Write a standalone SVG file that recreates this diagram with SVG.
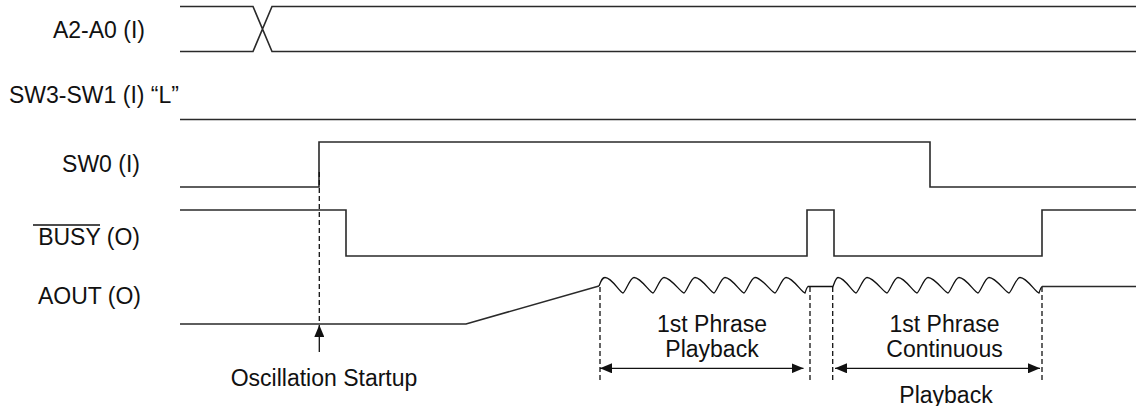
<svg xmlns="http://www.w3.org/2000/svg" width="1136" height="406" viewBox="0 0 1136 406">
<style>
text{font-family:"Liberation Sans",Arial,sans-serif;font-size:23px;fill:#111}
.sig{fill:none;stroke:#2a2a2a;stroke-width:1.6}
.wave{fill:none;stroke:#111;stroke-width:1.3}
.dash{fill:none;stroke:#111;stroke-width:1.3;stroke-dasharray:5,3}
.arr{fill:none;stroke:#111;stroke-width:1.3}
</style>
<defs>
<marker id="ah" viewBox="0 0 12 10" refX="12" refY="5" markerWidth="12" markerHeight="10" markerUnits="userSpaceOnUse" orient="auto-start-reverse">
<path d="M0,0 L12,5 L0,10 z" fill="#111"/>
</marker>
</defs>
<rect width="1136" height="406" fill="#fff"/>
<g id="a2a0">
<text x="145" y="38" text-anchor="end">A2-A0 (I)</text>
<path class="sig" d="M180,6.5 L253,6.5 L272,51.5 L1136,51.5 M180,51.5 L253,51.5 L272,6.5 L1136,6.5"/>
</g>
<g id="sw3sw1">
<text x="94" y="103" text-anchor="middle">SW3-SW1 (I) “L”</text>
<path class="sig" d="M180,119.5 L1136,119.5"/>
</g>
<g id="sw0">
<text x="140" y="172" text-anchor="end">SW0 (I)</text>
<path class="sig" d="M180,187 L319,187 L319,142 L930,142 L930,187 L1136,187"/>
</g>
<g id="busy">
<text x="140" y="245" text-anchor="end">BUSY (O)</text>
<line x1="33" y1="225" x2="100" y2="225" stroke="#111" stroke-width="1.5"/>
<path class="sig" d="M180,210 L346,210 L346,256 L807,256 L807,210 L834,210 L834,256 L1042,256 L1042,210 L1136,210"/>
</g>
<g id="aout">
<text x="141" y="304" text-anchor="end">AOUT (O)</text>
<path class="sig" d="M180,324 L466,324 L599,286"/>
<path class="wave" d="M599,286 C601,281 602,277.5 605,277.5 C612,277.5 620,293 623,293 C625,293 630,277.5 634,277.5 C641,277.5 650,293 653,293 C655,293 660,277.5 664,277.5 C671,277.5 681,293 684,293 C686,293 691,277.5 695,277.5 C702,277.5 711,293 714,293 C716,293 721,277.5 725,277.5 C732,277.5 741,293 744,293 C746,293 751,277.5 755,277.5 C762,277.5 772,293 775,293 C777,293 782,277.5 786,277.5 C793,277.5 802,293 805,293 C806,290 807,287 808,286.5 L833,286.5 C835,281 836,277.5 838,277.5 C845,277.5 853,293 856,293 C858,293 863,277.5 867,277.5 C874,277.5 884,293 887,293 C889,293 894,277.5 898,277.5 C905,277.5 914,293 917,293 C919,293 924,277.5 928,277.5 C935,277.5 945,293 948,293 C950,293 955,277.5 959,277.5 C966,277.5 975,293 978,293 C980,293 985,277.5 989,277.5 C996,277.5 1006,293 1009,293 C1011,293 1016,277.5 1020,277.5 C1027,277.5 1036,293 1039,293 C1040,290 1041,287 1042,286.5"/>
<path class="sig" d="M1042,286.5 L1136,286.5"/>
</g>
<g id="connectors">
<line class="dash" x1="319.3" y1="172" x2="319.3" y2="322"/>
<line class="arr" x1="319.3" y1="352" x2="319.3" y2="325" marker-end="url(#ah)"/>
<line class="dash" x1="600" y1="287" x2="600" y2="383"/>
<line class="dash" x1="810" y1="287" x2="810" y2="382"/>
<line class="dash" x1="832.7" y1="287" x2="832.7" y2="381"/>
<line class="dash" x1="1042" y1="287" x2="1042" y2="383"/>
<line class="arr" x1="600" y1="368.3" x2="803.5" y2="368.3" marker-start="url(#ah)" marker-end="url(#ah)"/>
<line class="arr" x1="835" y1="368.3" x2="1040" y2="368.3" marker-start="url(#ah)" marker-end="url(#ah)"/>
</g>
<g id="labels">
<text x="324" y="386" text-anchor="middle">Oscillation Startup</text>
<text x="712" y="332" text-anchor="middle">1st Phrase</text>
<text x="712" y="357" text-anchor="middle">Playback</text>
<text x="944.5" y="332" text-anchor="middle">1st Phrase</text>
<text x="944.5" y="357" text-anchor="middle">Continuous</text>
<text x="946" y="402.5" text-anchor="middle">Playback</text>
</g>
</svg>
